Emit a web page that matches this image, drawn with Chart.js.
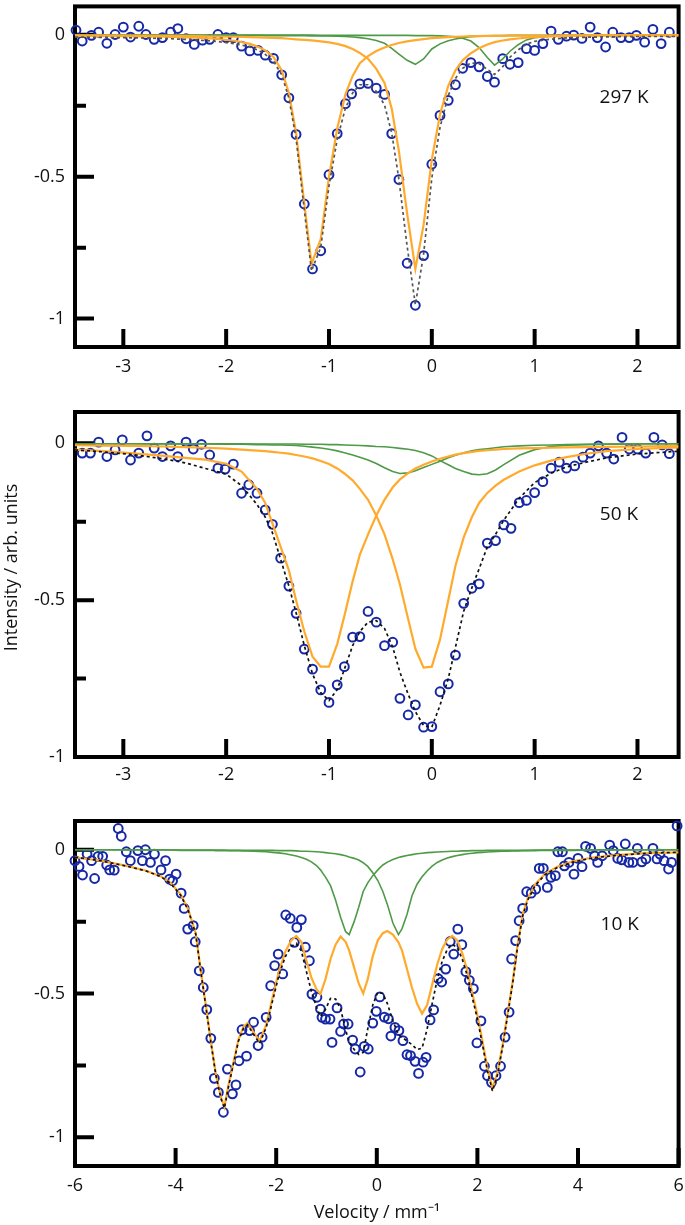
<!DOCTYPE html>
<html>
<head>
<meta charset="utf-8">
<script src="https://cdn.jsdelivr.net/npm/chart.js@4.4.1/dist/chart.umd.min.js"></script>
<style>
  html, body { margin: 0; padding: 0; background: #fff; }
  #wrap { position: relative; width: 685px; height: 1225px; }
  canvas { position: absolute; left: 0; }
</style>
</head>
<body>
<div id="wrap">
  <canvas id="c297" width="685" height="395" style="top:0px"></canvas>
  <canvas id="c50" width="685" height="395" style="top:400px"></canvas>
  <canvas id="c10" width="685" height="425" style="top:800px"></canvas>
</div>
<script>
// ---- 297 K ----
const vel297 = [-3.46, -3.40, -3.31, -3.24, -3.16, -3.08, -3.00, -2.93, -2.85, -2.78, -2.70, -2.62, -2.54, -2.47, -2.39, -2.31, -2.23, -2.16, -2.08, -2.00,
  -1.93, -1.85, -1.77, -1.69, -1.62, -1.54, -1.46, -1.39, -1.32, -1.24, -1.16, -1.08, -1.00, -0.92, -0.84, -0.78, -0.70, -0.62, -0.54, -0.46,
  -0.39, -0.32, -0.24, -0.16, -0.08, 0.00, 0.08, 0.16, 0.23, 0.30, 0.38, 0.46, 0.54, 0.61, 0.69, 0.76, 0.84, 0.92, 1.00, 1.08,
  1.16, 1.23, 1.31, 1.38, 1.46, 1.54, 1.61, 1.69, 1.76, 1.84, 1.92, 1.99, 2.07, 2.15, 2.23, 2.31];
const obs297 = [0.016, -0.022, -0.002, 0.009, -0.030, 0.001, 0.027, -0.008, 0.030, 0.001, -0.016, -0.010, 0.009, 0.022, -0.014, -0.034, -0.019, -0.016, 0.001, -0.010,
  -0.010, -0.040, -0.057, -0.055, -0.072, -0.083, -0.141, -0.222, -0.351, -0.596, -0.825, -0.761, -0.493, -0.348, -0.243, -0.208, -0.173, -0.171, -0.188, -0.210,
  -0.348, -0.510, -0.805, -0.953, -0.778, -0.456, -0.284, -0.231, -0.176, -0.118, -0.098, -0.113, -0.147, -0.167, -0.084, -0.104, -0.098, -0.049, -0.055, -0.031,
  0.013, -0.016, -0.005, -0.001, -0.013, 0.027, -0.010, -0.043, 0.009, -0.010, -0.010, -0.002, -0.026, 0.019, -0.031, 0.009];
const fitVel297 = [-3.47, -3.0, -2.6, -2.3, -2.1, -1.9, -1.77, -1.69, -1.62, -1.54, -1.46, -1.39, -1.32, -1.24, -1.17, -1.08, -1.0, -0.92, -0.84, -0.77,
  -0.70, -0.62, -0.54, -0.46, -0.39, -0.32, -0.24, -0.16, -0.08, 0.0, 0.08, 0.16, 0.23, 0.30, 0.38, 0.46, 0.54, 0.61, 0.69, 0.76,
  0.84, 0.92, 1.0, 1.15, 1.35, 1.6, 2.0, 2.4];
const orangeA297 = [-0.004, -0.005, -0.007, -0.010, -0.014, -0.022, -0.032, -0.042, -0.055, -0.078, -0.125, -0.205, -0.345, -0.595, -0.807, -0.72, -0.50, -0.33, -0.21, -0.145,
  -0.10, -0.075, -0.057, -0.045, -0.036, -0.029, -0.023, -0.019, -0.015, -0.012, -0.010, -0.008, -0.007, -0.006, -0.005, -0.005, -0.004, -0.004, -0.004, -0.003,
  -0.003, -0.003, -0.003, -0.003, -0.002, -0.002, -0.002, -0.002];
const orangeB297 = [-0.002, -0.003, -0.004, -0.005, -0.006, -0.007, -0.008, -0.009, -0.010, -0.011, -0.012, -0.014, -0.016, -0.018, -0.020, -0.023, -0.027, -0.032, -0.040, -0.050,
  -0.064, -0.085, -0.12, -0.17, -0.26, -0.41, -0.63, -0.825, -0.67, -0.44, -0.28, -0.18, -0.125, -0.09, -0.065, -0.047, -0.034, -0.026, -0.020, -0.016,
  -0.013, -0.010, -0.008, -0.006, -0.004, -0.003, -0.002, -0.002];
const greenA297 = [-0.001, -0.001, -0.001, -0.002, -0.002, -0.002, -0.002, -0.002, -0.003, -0.003, -0.003, -0.003, -0.003, -0.003, -0.004, -0.004, -0.004, -0.005, -0.006, -0.008,
  -0.010, -0.014, -0.020, -0.030, -0.048, -0.068, -0.090, -0.104, -0.085, -0.050, -0.032, -0.021, -0.015, -0.010, -0.007, -0.005, -0.004, -0.003, -0.003, -0.002,
  -0.002, -0.002, -0.002, -0.002, -0.001, -0.001, -0.001, -0.001];
const greenB297 = [-0.001, -0.001, -0.001, -0.001, -0.001, -0.001, -0.001, -0.001, -0.001, -0.001, -0.001, -0.001, -0.001, -0.001, -0.001, -0.002, -0.002, -0.002, -0.002, -0.002,
  -0.002, -0.002, -0.002, -0.002, -0.002, -0.002, -0.002, -0.003, -0.003, -0.003, -0.004, -0.005, -0.007, -0.012, -0.022, -0.045, -0.080, -0.107, -0.085, -0.058,
  -0.035, -0.018, -0.010, -0.005, -0.003, -0.002, -0.001, -0.001];
const total297 = [-0.008, -0.010, -0.013, -0.018, -0.023, -0.032, -0.043, -0.054, -0.069, -0.093, -0.141, -0.223, -0.365, -0.617, -0.832, -0.749, -0.533, -0.369, -0.258, -0.205,
  -0.176, -0.176, -0.199, -0.247, -0.346, -0.509, -0.745, -0.951, -0.773, -0.505, -0.326, -0.214, -0.154, -0.118, -0.099, -0.102, -0.122, -0.140, -0.112, -0.079,
  -0.053, -0.033, -0.023, -0.016, -0.010, -0.008, -0.006, -0.006];

// ---- 50 K ----
const vel50 = [-3.40, -3.32, -3.24, -3.16, -3.08, -3.01, -2.93, -2.85, -2.77, -2.70, -2.62, -2.54, -2.47, -2.39, -2.32, -2.24, -2.16, -2.08, -2.01, -1.93,
  -1.85, -1.78, -1.70, -1.62, -1.55, -1.47, -1.39, -1.32, -1.24, -1.16, -1.08, -1.00, -0.92, -0.85, -0.77, -0.70, -0.62, -0.54, -0.46, -0.38,
  -0.31, -0.23, -0.16, -0.08, 0.00, 0.08, 0.16, 0.23, 0.31, 0.39, 0.46, 0.54, 0.62, 0.70, 0.77, 0.85, 0.92, 1.00, 1.08, 1.16,
  1.24, 1.31, 1.39, 1.47, 1.54, 1.62, 1.70, 1.77, 1.85, 1.92, 2.00, 2.08, 2.16, 2.24, 2.31];
const obs50 = [-0.031, -0.031, 0.004, -0.042, -0.021, 0.011, -0.053, -0.031, 0.024, -0.015, -0.042, -0.008, -0.042, 0.004, -0.018, -0.003, -0.037, -0.079, -0.082, -0.066,
  -0.159, -0.132, -0.159, -0.212, -0.258, -0.366, -0.455, -0.542, -0.656, -0.720, -0.786, -0.826, -0.770, -0.712, -0.618, -0.616, -0.536, -0.570, -0.645, -0.634,
  -0.813, -0.866, -0.834, -0.905, -0.903, -0.792, -0.767, -0.675, -0.510, -0.462, -0.448, -0.318, -0.310, -0.260, -0.271, -0.189, -0.182, -0.157, -0.122, -0.079,
  -0.060, -0.079, -0.072, -0.044, -0.031, -0.008, -0.031, -0.050, 0.019, -0.018, -0.018, -0.031, 0.019, -0.005, -0.033];
const fitVel50 = [-3.47, -3.2, -2.9, -2.6, -2.4, -2.2, -2.0, -1.85, -1.70, -1.62, -1.55, -1.47, -1.39, -1.32, -1.24, -1.16, -1.08, -1.00, -0.92, -0.85,
  -0.77, -0.70, -0.62, -0.54, -0.46, -0.38, -0.31, -0.23, -0.16, -0.08, 0.00, 0.08, 0.16, 0.23, 0.31, 0.39, 0.46, 0.54, 0.62, 0.70,
  0.85, 1.0, 1.16, 1.31, 1.5, 1.7, 2.0, 2.4];
const orangeA50 = [-0.020, -0.025, -0.032, -0.040, -0.046, -0.052, -0.065, -0.090, -0.145, -0.19, -0.255, -0.33, -0.405, -0.50, -0.60, -0.68, -0.712, -0.712, -0.64, -0.55,
  -0.44, -0.355, -0.29, -0.23, -0.18, -0.14, -0.115, -0.095, -0.08, -0.068, -0.058, -0.049, -0.042, -0.036, -0.031, -0.027, -0.024, -0.022, -0.020, -0.018,
  -0.016, -0.015, -0.014, -0.013, -0.012, -0.011, -0.010, -0.008];
const orangeB50 = [-0.006, -0.007, -0.008, -0.010, -0.012, -0.014, -0.017, -0.020, -0.023, -0.025, -0.027, -0.030, -0.033, -0.037, -0.042, -0.048, -0.056, -0.066, -0.080, -0.096,
  -0.118, -0.145, -0.18, -0.23, -0.29, -0.37, -0.45, -0.56, -0.655, -0.715, -0.712, -0.625, -0.50, -0.39, -0.30, -0.235, -0.19, -0.158, -0.135, -0.116,
  -0.090, -0.070, -0.055, -0.044, -0.033, -0.025, -0.018, -0.013];
const greenA50 = [-0.001, -0.001, -0.001, -0.002, -0.002, -0.002, -0.003, -0.003, -0.004, -0.004, -0.005, -0.005, -0.006, -0.007, -0.009, -0.012, -0.015, -0.019, -0.024, -0.030,
  -0.037, -0.044, -0.053, -0.064, -0.078, -0.090, -0.096, -0.094, -0.087, -0.077, -0.067, -0.057, -0.046, -0.038, -0.030, -0.024, -0.020, -0.017, -0.014, -0.011,
  -0.008, -0.006, -0.005, -0.004, -0.003, -0.002, -0.001, -0.001];
const greenB50 = [-0.001, -0.001, -0.001, -0.001, -0.001, -0.001, -0.001, -0.001, -0.002, -0.002, -0.002, -0.002, -0.002, -0.002, -0.003, -0.003, -0.003, -0.004, -0.004, -0.005,
  -0.006, -0.007, -0.008, -0.010, -0.011, -0.013, -0.016, -0.019, -0.023, -0.030, -0.040, -0.055, -0.068, -0.080, -0.090, -0.098, -0.100, -0.097, -0.085, -0.068,
  -0.038, -0.020, -0.010, -0.006, -0.004, -0.003, -0.002, -0.001];
const total50 = [-0.021, -0.027, -0.036, -0.050, -0.062, -0.080, -0.098, -0.135, -0.195, -0.235, -0.285, -0.37, -0.455, -0.54, -0.645, -0.735, -0.795, -0.82, -0.785, -0.72,
  -0.645, -0.60, -0.57, -0.565, -0.59, -0.65, -0.73, -0.80, -0.855, -0.90, -0.905, -0.835, -0.75, -0.65, -0.535, -0.46, -0.40, -0.33, -0.29, -0.245,
  -0.175, -0.125, -0.095, -0.075, -0.060, -0.046, -0.034, -0.025];

// ---- 10 K ----
const vel10 = [-6.00, -5.92, -5.85, -5.76, -5.67, -5.61, -5.54, -5.45, -5.37, -5.31, -5.22, -5.14, -5.08, -4.98, -4.90, -4.75, -4.66, -4.60, -4.50, -4.42,
  -4.29, -4.20, -4.12, -4.06, -3.99, -3.89, -3.83, -3.76, -3.65, -3.61, -3.53, -3.45, -3.38, -3.30, -3.23, -3.15, -3.05, -2.97, -2.87, -2.80,
  -2.74, -2.68, -2.59, -2.53, -2.45, -2.36, -2.28, -2.20, -2.11, -2.03, -1.96, -1.87, -1.81, -1.72, -1.64, -1.59, -1.50, -1.42, -1.34, -1.29,
  -1.19, -1.12, -1.09, -1.02, -0.93, -0.89, -0.79, -0.72, -0.66, -0.57, -0.48, -0.43, -0.33, -0.25, -0.17, -0.08, -0.01, 0.06, 0.15, 0.23,
  0.28, 0.36, 0.44, 0.52, 0.60, 0.67, 0.76, 0.83, 0.92, 0.98, 1.06, 1.13, 1.22, 1.29, 1.37, 1.46, 1.53, 1.61, 1.69, 1.77,
  1.84, 1.92, 1.99, 2.07, 2.14, 2.20, 2.28, 2.37, 2.46, 2.55, 2.63, 2.68, 2.76, 2.83, 2.90, 2.98, 3.07, 3.16, 3.23, 3.31,
  3.39, 3.46, 3.55, 3.60, 3.69, 3.73, 3.82, 3.92, 4.00, 4.08, 4.15, 4.25, 4.33, 4.39, 4.48, 4.63, 4.70, 4.79, 4.87, 4.94,
  5.01, 5.09, 5.18, 5.27, 5.35, 5.49, 5.57, 5.63, 5.71, 5.80, 5.86, 5.97];
const obs10 = [-0.038, -0.058, -0.088, -0.015, -0.038, -0.100, -0.023, -0.023, -0.053, -0.070, -0.071, 0.074, 0.047, -0.007, -0.038, -0.003, -0.038, 0.000, -0.044, -0.015,
  -0.070, -0.038, -0.102, -0.108, -0.085, -0.151, -0.204, -0.276, -0.264, -0.320, -0.421, -0.479, -0.556, -0.656, -0.795, -0.844, -0.913, -0.763, -0.849, -0.818,
  -0.734, -0.626, -0.718, -0.629, -0.600, -0.681, -0.652, -0.583, -0.473, -0.403, -0.363, -0.432, -0.227, -0.239, -0.322, -0.270, -0.243, -0.339, -0.386, -0.502,
  -0.513, -0.554, -0.583, -0.589, -0.589, -0.670, -0.550, -0.632, -0.606, -0.606, -0.662, -0.693, -0.773, -0.684, -0.693, -0.603, -0.562, -0.512, -0.582, -0.588,
  -0.648, -0.618, -0.629, -0.664, -0.713, -0.716, -0.736, -0.778, -0.739, -0.722, -0.592, -0.557, -0.448, -0.460, -0.415, -0.319, -0.363, -0.276, -0.330, -0.424,
  -0.454, -0.483, -0.672, -0.595, -0.753, -0.786, -0.809, -0.786, -0.753, -0.652, -0.565, -0.380, -0.316, -0.247, -0.204, -0.146, -0.151, -0.137, -0.065, -0.065,
  -0.131, -0.096, -0.090, -0.007, -0.007, -0.056, -0.044, -0.085, -0.030, -0.059, 0.012, 0.005, -0.021, -0.044, -0.021, 0.016, -0.003, -0.030, -0.035, 0.020,
  -0.044, -0.044, 0.005, -0.042, -0.032, 0.005, -0.032, -0.015, -0.038, -0.067, -0.044, 0.083];
const fitVel10 = [-6.0, -5.5, -5.0, -4.6, -4.3, -4.1, -3.9, -3.75, -3.6, -3.5, -3.4, -3.3, -3.2, -3.1, -3.03, -2.95, -2.85, -2.75, -2.65, -2.57,
  -2.45, -2.33, -2.2, -2.08, -1.95, -1.82, -1.7, -1.6, -1.5, -1.4, -1.3, -1.2, -1.12, -1.02, -0.92, -0.82, -0.72, -0.62, -0.55, -0.45,
  -0.36, -0.27, -0.18, -0.08, 0.02, 0.12, 0.21, 0.32, 0.43, 0.5, 0.6, 0.7, 0.8, 0.9, 1.0, 1.1, 1.2, 1.3, 1.4, 1.5,
  1.6, 1.7, 1.8, 1.9, 2.0, 2.1, 2.2, 2.3, 2.4, 2.5, 2.6, 2.7, 2.8, 2.9, 3.0, 3.15, 3.35, 3.6, 3.9, 4.3,
  4.8, 5.4, 6.0];
const sextet10 = [-0.026, -0.038, -0.055, -0.072, -0.092, -0.115, -0.155, -0.207, -0.29, -0.42, -0.54, -0.665, -0.78, -0.86, -0.895, -0.82, -0.74, -0.66, -0.615, -0.603,
  -0.635, -0.665, -0.61, -0.52, -0.425, -0.355, -0.315, -0.300, -0.32, -0.385, -0.445, -0.485, -0.502, -0.45, -0.38, -0.33, -0.302, -0.32, -0.35, -0.41,
  -0.465, -0.50, -0.45, -0.37, -0.315, -0.29, -0.283, -0.295, -0.322, -0.35, -0.415, -0.48, -0.535, -0.57, -0.54, -0.47, -0.40, -0.345, -0.312, -0.300,
  -0.315, -0.36, -0.42, -0.50, -0.575, -0.665, -0.76, -0.83, -0.775, -0.68, -0.57, -0.46, -0.33, -0.225, -0.17, -0.12, -0.083, -0.058, -0.040, -0.027,
  -0.018, -0.012, -0.009];
const greenA10 = [0, 0, -0.001, -0.001, -0.001, -0.001, -0.002, -0.002, -0.002, -0.002, -0.002, -0.002, -0.003, -0.003, -0.003, -0.003, -0.003, -0.003, -0.004, -0.004,
  -0.005, -0.006, -0.007, -0.009, -0.011, -0.014, -0.018, -0.022, -0.027, -0.033, -0.042, -0.055, -0.070, -0.095, -0.125, -0.175, -0.235, -0.285, -0.295, -0.25,
  -0.20, -0.145, -0.115, -0.09, -0.07, -0.053, -0.043, -0.034, -0.027, -0.024, -0.020, -0.017, -0.014, -0.012, -0.010, -0.009, -0.008, -0.007, -0.006, -0.005,
  -0.005, -0.004, -0.004, -0.003, -0.003, -0.003, -0.002, -0.002, -0.002, -0.002, -0.002, -0.002, -0.002, -0.002, -0.002, -0.001, -0.001, -0.001, -0.001, 0,
  0, 0, 0];
const greenB10 = [0, 0, 0, 0, 0, -0.001, -0.001, -0.001, -0.001, -0.001, -0.001, -0.001, -0.001, -0.001, -0.001, -0.002, -0.002, -0.002, -0.002, -0.002,
  -0.002, -0.002, -0.002, -0.002, -0.003, -0.003, -0.003, -0.004, -0.005, -0.005, -0.006, -0.007, -0.008, -0.010, -0.012, -0.014, -0.017, -0.021, -0.025, -0.030,
  -0.036, -0.045, -0.058, -0.080, -0.107, -0.145, -0.19, -0.255, -0.295, -0.275, -0.225, -0.16, -0.12, -0.094, -0.074, -0.057, -0.044, -0.036, -0.029, -0.024,
  -0.020, -0.017, -0.014, -0.012, -0.010, -0.009, -0.008, -0.007, -0.006, -0.005, -0.005, -0.004, -0.004, -0.003, -0.003, -0.003, -0.002, -0.002, -0.002, -0.001,
  -0.001, 0, 0];
const total10 = [-0.026, -0.038, -0.056, -0.073, -0.093, -0.117, -0.158, -0.21, -0.293, -0.423, -0.543, -0.668, -0.784, -0.864, -0.899, -0.825, -0.745, -0.665, -0.621, -0.609,
  -0.642, -0.673, -0.619, -0.531, -0.439, -0.372, -0.336, -0.326, -0.352, -0.423, -0.493, -0.547, -0.580, -0.555, -0.517, -0.519, -0.554, -0.626, -0.670, -0.695,
  -0.712, -0.705, -0.623, -0.540, -0.495, -0.50, -0.535, -0.595, -0.644, -0.652, -0.665, -0.678, -0.695, -0.69, -0.624, -0.536, -0.452, -0.388, -0.347, -0.329,
  -0.340, -0.381, -0.438, -0.515, -0.588, -0.677, -0.770, -0.839, -0.783, -0.687, -0.577, -0.466, -0.336, -0.230, -0.175, -0.124, -0.086, -0.061, -0.043, -0.028,
  -0.019, -0.012, -0.009];

const tempLabels = ['297 K', '50 K', '10 K'];
const xTicksNarrow = [-3, -2, -1, 0, 1, 2];
const xTicksWide = [-6, -4, -2, 0, 2, 4, 6];
const yTicks = [0, -0.25, -0.5, -0.75, -1];
const yLabelled = [0, -0.5, -1];

const BLUE = '#1628a6';
const ORANGE = '#ffaa2c';
const GREEN = '#4e9a47';

Chart.defaults.font.family = '"Open Sans", sans-serif';
Chart.defaults.font.size = 18;
Chart.defaults.color = '#111';

function pairs(xs, ys) {
  return xs.map((x, i) => ({ x: x, y: ys[i] }));
}

function curve(xs, ys, color, width, order, dash) {
  return {
    data: pairs(xs, ys),
    showLine: true,
    borderColor: color,
    borderWidth: width,
    borderDash: dash || [],
    pointRadius: 0,
    tension: 0,
    order: order
  };
}

// box round the plot, inward ticks, temperature label, y title
const framePlugin = {
  id: 'frame',
  beforeDatasetsDraw(chart) {
    const { ctx, chartArea: a, scales: { x, y } } = chart;
    ctx.save();
    ctx.strokeStyle = '#000';
    ctx.lineWidth = 4;
    ctx.strokeRect(a.left, a.top, a.right - a.left, a.bottom - a.top);
    ctx.beginPath();
    y.ticks.forEach(t => {
      const py = y.getPixelForValue(t.value);
      const len = yLabelled.includes(t.value) ? 19 : 11;
      ctx.moveTo(a.left, py);
      ctx.lineTo(a.left + len, py);
    });
    x.ticks.forEach(t => {
      const px = x.getPixelForValue(t.value);
      ctx.moveTo(px, a.bottom);
      ctx.lineTo(px, a.bottom - 18);
    });
    ctx.stroke();
    ctx.restore();
  },
  afterDraw(chart, args, opts) {
    const { ctx, chartArea: a, scales: { x, y } } = chart;
    ctx.save();
    ctx.fillStyle = '#111';
    ctx.textAlign = 'center';
    ctx.textBaseline = 'middle';
    ctx.font = '19px "Open Sans", sans-serif';
    ctx.fillText(opts.label, x.getPixelForValue(opts.labelAt[0]), y.getPixelForValue(opts.labelAt[1]));
    if (opts.yTitle) {
      ctx.font = '18px "Open Sans", sans-serif';
      ctx.translate(12, (a.top + a.bottom) / 2 - 17);
      ctx.rotate(-Math.PI / 2);
      ctx.fillText(opts.yTitle, 0, 0);
    }
    ctx.restore();
  }
};

function drawPanel(p) {
  const datasets = [
    {
      data: pairs(p.vel, p.obs),
      showLine: false,
      pointRadius: 4.4,
      pointBorderWidth: 2,
      pointBorderColor: BLUE,
      pointBackgroundColor: 'rgba(0,0,0,0)',
      clip: false,
      order: 5
    }
  ];
  p.greens.forEach(g => datasets.push(curve(p.fitVel, g, GREEN, 1.6, 3)));
  p.oranges.forEach(o => datasets.push(curve(p.fitVel, o, ORANGE, 2.2, 2)));
  datasets.push(curve(p.fitVel, p.total, p.totalColor, 1.7, 1, [3, 3]));

  new Chart(document.getElementById(p.id), {
    type: 'scatter',
    data: { datasets },
    options: {
      responsive: false,
      animation: false,
      events: [],
      layout: { padding: { top: p.padTop, right: 3, left: 0, bottom: 0 } },
      plugins: {
        legend: { display: false },
        tooltip: { enabled: false },
        frame: { label: p.label, labelAt: p.labelAt, yTitle: p.yTitle }
      },
      scales: {
        x: {
          type: 'linear',
          min: p.xMin,
          max: p.xMax,
          grid: { display: false, drawTicks: false },
          border: { display: false },
          afterBuildTicks: s => { s.ticks = p.xTicks.map(v => ({ value: v })); },
          afterFit: s => { s.height = p.xAxisH; s.paddingLeft = 0; s.paddingRight = 0; },
          ticks: { padding: p.xPad, autoSkip: false, maxRotation: 0, callback: v => String(v) },
          title: p.xTitle ? { display: true, text: p.xTitle, padding: { top: 0, bottom: 1 } } : { display: false }
        },
        y: {
          type: 'linear',
          min: p.yMin,
          max: p.yMax,
          grid: { display: false, drawTicks: false },
          border: { display: false },
          afterBuildTicks: s => { s.ticks = yTicks.map(v => ({ value: v })); },
          afterFit: s => { s.width = 75; s.paddingTop = 0; s.paddingBottom = 0; },
          ticks: { padding: 10, autoSkip: false, callback: v => yLabelled.includes(v) ? String(v) : '' }
        }
      }
    },
    plugins: [framePlugin]
  });
}

drawPanel({
  id: 'c297', vel: vel297, obs: obs297, fitVel: fitVel297,
  greens: [greenA297, greenB297], oranges: [orangeA297, orangeB297], total: total297, totalColor: '#555',
  xMin: -3.47, xMax: 2.4, yMin: -1.1, yMax: 0.1, xTicks: xTicksNarrow,
  padTop: 3, xAxisH: 48, xPad: 9, label: tempLabels[0], labelAt: [1.87, -0.22]
});

drawPanel({
  id: 'c50', vel: vel50, obs: obs50, fitVel: fitVel50,
  greens: [greenA50, greenB50], oranges: [orangeA50, orangeB50], total: total50, totalColor: '#111',
  xMin: -3.47, xMax: 2.4, yMin: -1.0, yMax: 0.1, xTicks: xTicksNarrow,
  padTop: 12, xAxisH: 38, xPad: 7, label: tempLabels[1], labelAt: [1.82, -0.228],
  yTitle: 'Intensity / arb. units'
});

drawPanel({
  id: 'c10', vel: vel10, obs: obs10, fitVel: fitVel10,
  greens: [greenA10, greenB10], oranges: [sextet10], total: total10, totalColor: '#111',
  xMin: -6, xMax: 6, yMin: -1.1, yMax: 0.1, xTicks: xTicksWide,
  padTop: 21, xAxisH: 59, xPad: 9, label: tempLabels[2], labelAt: [4.83, -0.262],
  xTitle: 'Velocity / mm\u207B\u00B9'
});
</script>
</body>
</html>
